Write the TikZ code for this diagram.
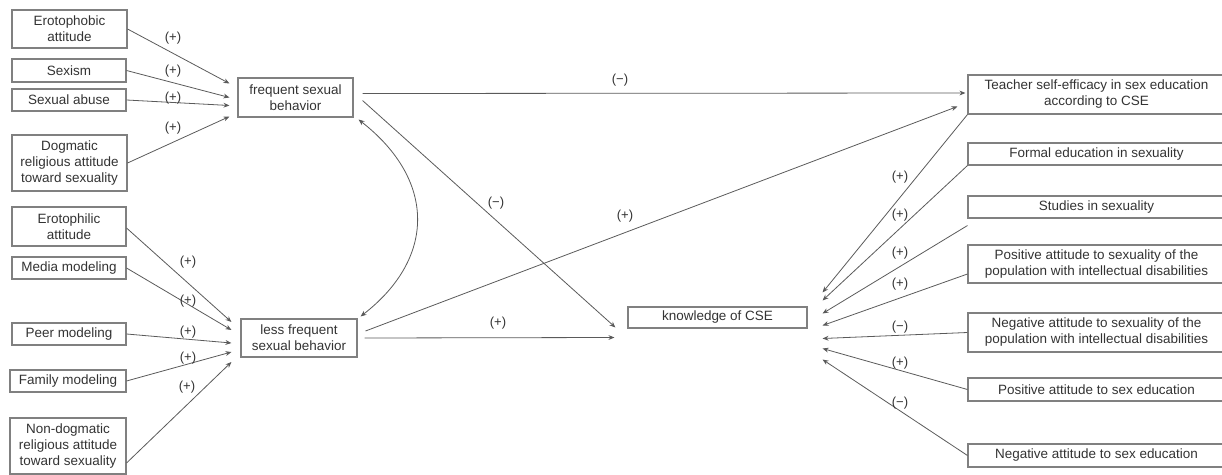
\documentclass[tikz,border=0pt]{standalone}
\usepackage{fontspec}
\setmainfont{Liberation Sans}
\usetikzlibrary{arrows.meta,calc}
\definecolor{txt}{HTML}{333333}
\definecolor{bord}{HTML}{808080}
\definecolor{ln}{HTML}{5A5A5A}
\begin{document}
\begin{tikzpicture}[x=0.75pt,y=-0.75pt,
  every node/.style={text=txt,font=\fontsize{10.1}{12}\selectfont},
  bx/.style n args={2}{draw=bord,line width=0.8pt,inner sep=0pt,align=center,
    minimum width=#1*0.75pt,minimum height=#2*0.75pt},
  conn/.style={draw=ln,line width=0.6pt,-{Stealth[length=4.5pt,width=3.6pt]}},
  sign/.style={inner sep=0pt,font=\fontsize{9.8}{12}\selectfont}]
\clip (0,0) rectangle (1222,475);
% left top group
\node[bx={115}{38}] (ero) at (69.5,29) {Erotophobic\\attitude};
\node[bx={114}{23}] (sexism) at (69,70.5) {Sexism};
\node[bx={114}{22}] (abuse) at (69,100) {Sexual abuse};
\node[bx={115}{56}] (dog) at (69.5,163) {Dogmatic\\religious attitude\\toward sexuality};
% left bottom group
\node[bx={114}{39}] (phil) at (69,226.5) {Erotophilic\\attitude};
\node[bx={114}{22}] (media) at (69,268) {Media modeling};
\node[bx={114}{22}] (peer) at (69,334) {Peer modeling};
\node[bx={116}{22}] (fam) at (68,381) {Family modeling};
\node[bx={116}{56}] (nond) at (68,446) {Non-dogmatic\\religious attitude\\toward sexuality};
% middle
\node[bx={115}{39}] (freq) at (295.5,97.5) {frequent sexual\\behavior};
\node[bx={116}{38}] (less) at (299,338) {less frequent\\sexual behavior};
\node[bx={179}{21}] (know) at (717.5,317.5) {knowledge of CSE};
% right group
\node[bx={257}{39}] (teach) at (1096.5,94.5) {Teacher self-efficacy in sex education\\according to CSE};
\node[bx={257}{22}] (formal) at (1096.5,154) {Formal education in sexuality};
\node[bx={257}{22}] (stud) at (1096.5,207) {Studies in sexuality};
\node[bx={257}{38}] (possex) at (1096.5,264) {Positive attitude to sexuality of the\\population with intellectual disabilities};
\node[bx={257}{39}] (negsex) at (1096.5,332.5) {Negative attitude to sexuality of the\\population with intellectual disabilities};
\node[bx={257}{23}] (posed) at (1096.5,389.5) {Positive attitude to sex education};
\node[bx={257}{23}] (neged) at (1096.5,455.5) {Negative attitude to sex education};
% arrow end coordinates
\coordinate (f1) at ($(freq.west)+(-8,-14)$);
\coordinate (f2) at ($(freq.west)+(-8,0)$);
\coordinate (f3) at ($(freq.west)+(-8,8)$);
\coordinate (f4) at ($(freq.west)+(-8,19)$);
\coordinate (l1) at ($(less.west)+(-9,-16)$);
\coordinate (l2) at ($(less.west)+(-9,-8)$);
\coordinate (l3) at ($(less.west)+(-9,5)$);
\coordinate (l4) at ($(less.west)+(-9,14)$);
\coordinate (l5) at ($(less.west)+(-9,24)$);
\coordinate (k1) at ($(know.east)+(15,-25)$);
\coordinate (k2) at ($(know.east)+(15,-17)$);
\coordinate (k3) at ($(know.east)+(15,-4)$);
\coordinate (k4) at ($(know.east)+(15,8)$);
\coordinate (k5) at ($(know.east)+(15,21)$);
\coordinate (k6) at ($(know.east)+(15,31)$);
\coordinate (k7) at ($(know.east)+(15,42)$);
\coordinate (kl1) at ($(know.west)+(-12,10)$);
\coordinate (kl2) at ($(know.west)+(-13,20)$);
\coordinate (tl) at ($(teach.west)+(-10,12)$);
% left inputs to frequent
\draw[conn] (ero.east) -- (f1);
\draw[conn] (sexism.east) -- (f2);
\draw[conn] (abuse.east) -- (f3);
\draw[conn] (dog.east) -- (f4);
\node[sign] at (173,38) {(+)};
\node[sign] at (173,71) {(+)};
\node[sign] at (173,98) {(+)};
\node[sign] at (173,128) {(+)};
% left inputs to less frequent
\draw[conn] ($(phil.east)+(0,1.5)$) -- (l1);
\draw[conn] (media.east) -- (l2);
\draw[conn] (peer.east) -- (l3);
\draw[conn] (fam.east) -- (l4);
\draw[conn] ($(nond.east)+(0,17)$) -- (l5);
\node[sign] at (188,262) {(+)};
\node[sign] at (188,301) {(+)};
\node[sign] at (188,332) {(+)};
\node[sign] at (188,358) {(+)};
\node[sign] at (187,387) {(+)};
% correlation curve
\draw[draw=ln,line width=0.6pt,{Stealth[length=4.5pt,width=3.6pt]}-{Stealth[length=4.5pt,width=3.6pt]}]
  ($(freq.south east)+(5,2)$) .. controls (436,180) and (436,258) .. ($(less.north east)+(3,-2)$);
% middle paths
\draw[conn] ($(freq.east)+(9,-4)$) -- ($(teach.west)+(-2,-1.5)$);
\node[sign] at (620,80) {(−)};
\draw[conn] ($(freq.east)+(9,3)$) -- (kl1);
\node[sign] at (496,203) {(−)};
\draw[conn] ($(less.east)+(8,-7)$) -- (tl);
\node[sign] at (625,216) {(+)};
\draw[conn] ($(less.east)+(7,0)$) -- (kl2);
\node[sign] at (498,323) {(+)};
% right inputs to knowledge
\draw[conn] (teach.south west) -- (k1);
\draw[conn] (formal.south west) -- (k2);
\draw[conn] ($(stud.south west)+(0,7)$) -- (k3);
\draw[conn] ($(possex.west)+(0,10)$) -- (k4);
\draw[conn] (negsex.west) -- (k5);
\draw[conn] (posed.west) -- (k6);
\draw[conn] (neged.west) -- (k7);
\node[sign] at (900,177) {(+)};
\node[sign] at (900,215) {(+)};
\node[sign] at (900,253) {(+)};
\node[sign] at (900,284) {(+)};
\node[sign] at (900,327) {(−)};
\node[sign] at (900,363) {(+)};
\node[sign] at (900,403) {(−)};
\end{tikzpicture}
\end{document}
